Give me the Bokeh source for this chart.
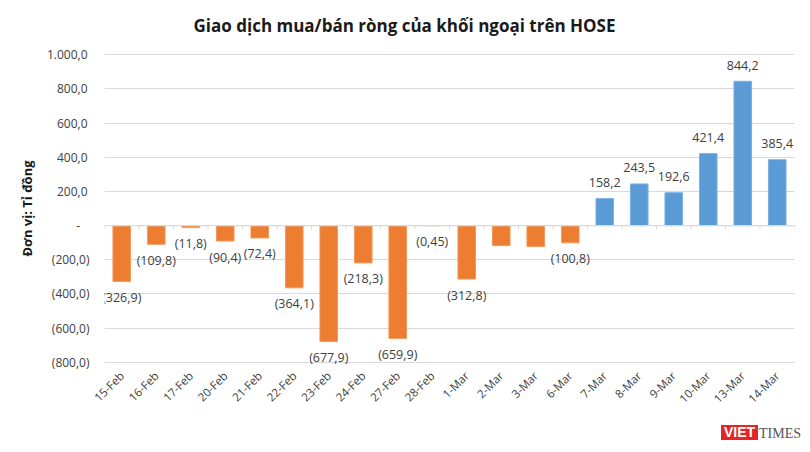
from math import pi
from bokeh.plotting import figure
from bokeh.layouts import column
from bokeh.core.properties import value
from bokeh.models import (FactorRange, Range1d, FixedTicker, Span, Div,
                          LabelSet, ColumnDataSource)
from bokeh.transform import dodge
from bokeh.embed import file_html
from bokeh.resources import INLINE

# ---- data ----
categories = ["15-Feb", "16-Feb", "17-Feb", "20-Feb", "21-Feb", "22-Feb", "23-Feb",
              "24-Feb", "27-Feb", "28-Feb", "1-Mar", "2-Mar", "3-Mar", "6-Mar",
              "7-Mar", "8-Mar", "9-Mar", "10-Mar", "13-Mar", "14-Mar"]
net_values = [-326.9, -109.8, -11.8, -90.4, -72.4, -364.1, -677.9,
              -218.3, -659.9, -0.45, -312.8, -117.0, -122.0, -100.8,
              158.2, 243.5, 192.6, 421.4, 844.2, 385.4]
value_labels = ["(326,9)", "(109,8)", "(11,8)", "(90,4)", "(72,4)", "(364,1)", "(677,9)",
                "(218,3)", "(659,9)", "(0,45)", "(312,8)", "", "", "(100,8)",
                "158,2", "243,5", "192,6", "421,4", "844,2", "385,4"]
y_ticks = [-800, -600, -400, -200, 0, 200, 400, 600, 800, 1000]
y_tick_labels = ["(800,0)", "(600,0)", "(400,0)", "(200,0)", "-\u00a0\u00a0\u00a0",
                 "200,0\u2009", "400,0\u2009", "600,0\u2009", "800,0\u2009", "1.000,0\u2009"]

ORANGE = "#ED7D31"
ORANGE_EDGE = "#F19A5E"
BLUE = "#5B9BD5"
BLUE_EDGE = "#7DB2E3"
GRID = "#D9D9D9"
TEXT = "#404040"
FONT = "Open Sans"

p = figure(x_range=FactorRange(*categories), y_range=Range1d(-830, 1030),
           width=806, height=420, output_backend="svg", toolbar_location=None,
           min_border_left=104, min_border_right=12, min_border_top=49,
           min_border_bottom=53)
p.outline_line_color = None
p.background_fill_color = "white"

# title
p.title.text = "Giao dịch mua/bán ròng của khối ngoại trên HOSE"
p.title.align = "left"
p.title.offset = 89
p.title.standoff = 22
p.title.vertical_align = "top"
p.title.text_font = FONT
p.title.text_font_size = "17px"
p.title.text_font_style = "bold"
p.title.text_color = "#1a1a1a"

# axes
p.yaxis.ticker = FixedTicker(ticks=y_ticks)
p.yaxis.major_label_overrides = dict(zip(y_ticks, y_tick_labels))
p.yaxis.axis_line_color = None
p.yaxis.major_tick_line_color = None
p.yaxis.minor_tick_line_color = None
p.yaxis.major_tick_out = 0
p.yaxis.major_label_standoff = 15
p.yaxis.major_label_text_font = FONT
p.yaxis.major_label_text_font_size = "12px"
p.yaxis.major_label_text_color = TEXT
p.yaxis.axis_label = "Đơn vị: Tỉ đồng"
p.yaxis.axis_label_text_font = FONT
p.yaxis.axis_label_text_font_size = "13px"
p.yaxis.axis_label_text_font_style = "bold"
p.yaxis.axis_label_text_color = "#1a1a1a"
p.yaxis.axis_label_standoff = 8

p.xaxis.axis_line_color = None
p.xaxis.major_tick_line_color = None
p.xaxis.major_tick_out = 0
p.xaxis.major_label_standoff = 6
p.xaxis.major_label_orientation = pi / 4
p.xaxis.major_label_text_font = FONT
p.xaxis.major_label_text_font_size = "11.5px"
p.xaxis.major_label_text_color = TEXT

p.xgrid.grid_line_color = None
p.ygrid.ticker = FixedTicker(ticks=y_ticks)
p.ygrid.grid_line_color = GRID
p.ygrid.grid_line_width = 1

# bars
colors = [BLUE if v >= 0 else ORANGE for v in net_values]
edges = [BLUE_EDGE if v >= 0 else ORANGE_EDGE for v in net_values]
src = ColumnDataSource(dict(cat=categories, val=net_values, color=colors, edge=edges))
p.vbar(x="cat", top="val", bottom=0, width=0.51, source=src,
       fill_color="color", line_color="edge", line_width=1)

# zero axis line with boundary ticks
p.add_layout(Span(location=0, dimension="width", line_color=GRID, line_width=1.2))
tick_src = ColumnDataSource(dict(cat=categories))
p.segment(x0=dodge("cat", -0.5, range=p.x_range), y0=0,
          x1=dodge("cat", -0.5, range=p.x_range), y1=-22,
          source=tick_src, line_color=GRID, line_width=1)
last_src = ColumnDataSource(dict(cat=categories[-1:]))
p.segment(x0=dodge("cat", 0.5, range=p.x_range), y0=0,
          x1=dodge("cat", 0.5, range=p.x_range), y1=-22,
          source=last_src, line_color=GRID, line_width=1)

# data labels
neg = [i for i, v in enumerate(net_values) if v < 0]
pos = [i for i, v in enumerate(net_values) if v >= 0]
neg_src = ColumnDataSource(dict(cat=[categories[i] for i in neg],
                                val=[net_values[i] for i in neg],
                                lbl=[value_labels[i] for i in neg]))
pos_src = ColumnDataSource(dict(cat=[categories[i] for i in pos],
                                val=[net_values[i] for i in pos],
                                lbl=[value_labels[i] for i in pos]))
p.add_layout(LabelSet(x="cat", y="val", text="lbl", source=neg_src,
                      text_align="center", text_baseline="middle", y_offset=-16,
                      text_font_size=value("12.5px"), text_font=value(FONT),
                      text_color=TEXT))
p.add_layout(LabelSet(x="cat", y="val", text="lbl", source=pos_src,
                      text_align="center", text_baseline="middle", y_offset=16,
                      text_font_size=value("12.5px"), text_font=value(FONT),
                      text_color=TEXT))

# watermark logo
logo = Div(width=806, height=28, margin=(0, 0, 0, 0), text=(
    "<div style='position:relative;width:806px;height:28px;'>"
    "<span style='position:absolute;left:721px;top:5px;background:#E32526;color:#ffffff;"
    "font-family:\"Liberation Sans\";font-weight:bold;font-size:14px;line-height:15px;"
    "padding:0 3px;'>VIET</span>"
    "<span style='position:absolute;left:759px;top:6px;color:#555555;"
    "font-family:\"Liberation Serif\";font-size:14px;line-height:15px;'>TIMES</span>"
    "</div>"))

layout = column(p, logo, spacing=0)
open("out.html", "w").write(file_html(layout, INLINE))
